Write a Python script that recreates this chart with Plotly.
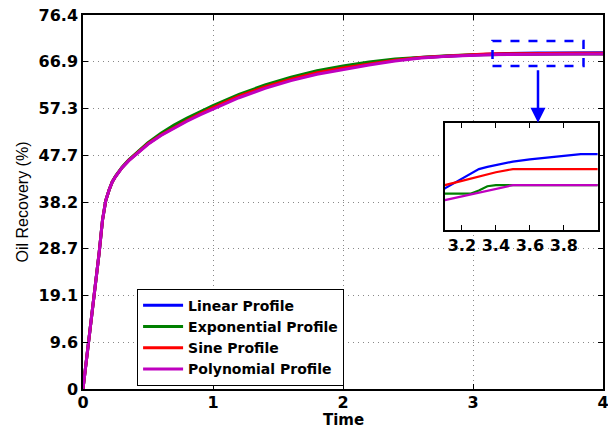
import plotly.graph_objects as go

# Simulation time and recovery factor (%) for each injection profile
time = [0, 0.05, 0.1, 0.125, 0.15, 0.175, 0.2, 0.225, 0.25, 0.3, 0.35, 0.4, 0.5,
        0.6, 0.7, 0.8, 0.9, 1.0, 1.2, 1.4, 1.6, 1.8, 2.0, 2.2, 2.4, 2.6, 2.8, 3.0,
        3.1, 3.2, 3.25, 3.3, 3.35, 3.4, 3.5, 3.6, 3.7, 3.8, 3.9, 4.0]

linear = [0, 11.0, 22.0, 28.0, 34.5, 38.5, 40.6, 42.3, 43.4, 45.2, 46.65, 47.85, 50.15,
          51.95, 53.5, 54.95, 56.3, 57.6, 59.9, 61.8, 63.4, 64.7, 65.7, 66.5, 67.2,
          67.7, 68.0, 68.25,
          68.39, 68.48, 68.52, 68.57, 68.59, 68.605, 68.64, 68.66, 68.675, 68.69, 68.71, 68.71]

exponential = [0, 11.0, 22.0, 28.0, 34.5, 38.5, 40.6, 42.35, 43.5, 45.3, 46.75, 47.95, 50.3,
               52.25, 53.9, 55.35, 56.7, 57.9, 60.2, 62.1, 63.7, 65.0, 66.0, 66.8, 67.4,
               67.8, 68.1, 68.3,
               68.34, 68.34, 68.34, 68.37, 68.41, 68.42, 68.42, 68.42, 68.42, 68.42, 68.42, 68.42]

sine = [0, 11.0, 22.0, 28.0, 34.5, 38.5, 40.6, 42.3, 43.4, 45.2, 46.65, 47.85, 50.1,
        51.9, 53.45, 54.85, 56.2, 57.5, 59.8, 61.7, 63.3, 64.6, 65.6, 66.45, 67.15,
        67.7, 68.05, 68.3,
        68.42, 68.46, 68.48, 68.50, 68.52, 68.54, 68.57, 68.57, 68.57, 68.57, 68.57, 68.57]

polynomial = [0, 11.0, 22.0, 28.0, 34.5, 38.5, 40.6, 42.3, 43.4, 45.2, 46.6, 47.8, 50.0,
              51.8, 53.3, 54.7, 56.0, 57.2, 59.5, 61.4, 63.0, 64.3, 65.3, 66.2, 67.0,
              67.6, 67.95, 68.2,
              68.28, 68.315, 68.33, 68.35, 68.37, 68.385, 68.42, 68.42, 68.42, 68.42, 68.42, 68.42]

series_names = ["Linear Profile", "Exponential Profile", "Sine Profile", "Polynomial Profile"]
series_colors = ["#0000FF", "#008000", "#FF0000", "#BF00BF"]

y_tickvals = [0, 9.55, 19.1, 28.65, 38.2, 47.74, 57.3, 66.85, 76.4]
y_ticktext = ["0", "9.6", "19.1", "28.7", "38.2", "47.7", "57.3", "66.9", "76.4"]
x_tickvals = [0, 1, 2, 3, 4]
inset_tickvals = [3.2, 3.4, 3.6, 3.8]

# zoomed window marked on the main axes, and the inset's view
zoom_t = (3.15, 3.85)
zoom_v = (66.0, 71.1)
inset_t = (3.1, 4.0)
inset_v = (68.0, 69.0)

BOLD = dict(family="DejaVu Sans", size=16, color="black", weight="bold")

fig = go.Figure()
all_series = [linear, exponential, sine, polynomial]
for name, color, vals in zip(series_names, series_colors, all_series):
    fig.add_trace(go.Scatter(x=time, y=vals, mode="lines", name=name,
                             line=dict(color=color, width=3),
                             xaxis="x", yaxis="y", legendgroup=name))
for name, color, vals in zip(series_names, series_colors, all_series):
    fig.add_trace(go.Scatter(x=time, y=vals, mode="lines", name=name,
                             line=dict(color=color, width=2.2),
                             xaxis="x2", yaxis="y2", showlegend=False,
                             legendgroup=name))

axis_common = dict(showline=True, linecolor="black", linewidth=1.5, mirror="ticks",
                   ticks="inside", ticklen=5, tickcolor="black", zeroline=False,
                   automargin=False, ticklabeloverflow="allow")

fig.update_layout(
    width=608, height=429,
    margin=dict(l=83, r=5, t=15, b=40),
    paper_bgcolor="white", plot_bgcolor="white",
    xaxis=dict(domain=[0, 1], range=[0, 4], tickvals=x_tickvals,
               showgrid=True, gridcolor="#888888", griddash="1px,4px", gridwidth=1,
               tickfont=BOLD, ticklabelstandoff=-2,
               **axis_common),
    yaxis=dict(domain=[0, 1], range=[0, 76.4], tickvals=y_tickvals, ticktext=y_ticktext,
               showgrid=True, gridcolor="#888888", griddash="1px,4px", gridwidth=1,
               tickfont=BOLD,
               title=dict(text="Oil Recovery (%)",
                          font=dict(family="Liberation Sans", size=16, color="black"),
                          standoff=6),
               **axis_common),
    xaxis2=dict(domain=[0.696, 0.99], range=list(inset_t), tickvals=inset_tickvals,
                anchor="y2", showgrid=False, tickfont=BOLD, **axis_common),
    yaxis2=dict(domain=[0.425, 0.711], range=list(inset_v), anchor="x2",
                showgrid=False, showticklabels=False, tickvals=[],
                **axis_common),
    legend=dict(x=0.104, y=0.268, xanchor="left", yanchor="top",
                bgcolor="white", bordercolor="black", borderwidth=1,
                font=dict(family="DejaVu Sans", size=14, color="black", weight="bold"),
                tracegroupgap=0, itemwidth=40),
    showlegend=True,
)

# x-axis title placed just below the tick labels
fig.add_annotation(xref="paper", yref="paper", x=0.5, y=0, yshift=-20,
                   xanchor="center", yanchor="top", showarrow=False,
                   text="Time", font=dict(family="DejaVu Sans", size=15,
                                          color="black", weight="bold"))

fig.add_shape(type="rect", xref="x", yref="y",
              x0=zoom_t[0], x1=zoom_t[1], y0=zoom_v[0], y1=zoom_v[1],
              line=dict(color="#0000FF", width=2.5, dash="dash"))

fig.add_annotation(xref="x", yref="y", axref="x", ayref="y",
                   x=(zoom_t[0] + zoom_t[1]) / 2, y=inset_v[1] - 14.6,
                   ax=(zoom_t[0] + zoom_t[1]) / 2, ay=zoom_v[0] - 0.6,
                   text="", showarrow=True, arrowhead=2, arrowsize=1.2,
                   arrowwidth=2.5, arrowcolor="#0000FF")

fig.write_html("out.html")
